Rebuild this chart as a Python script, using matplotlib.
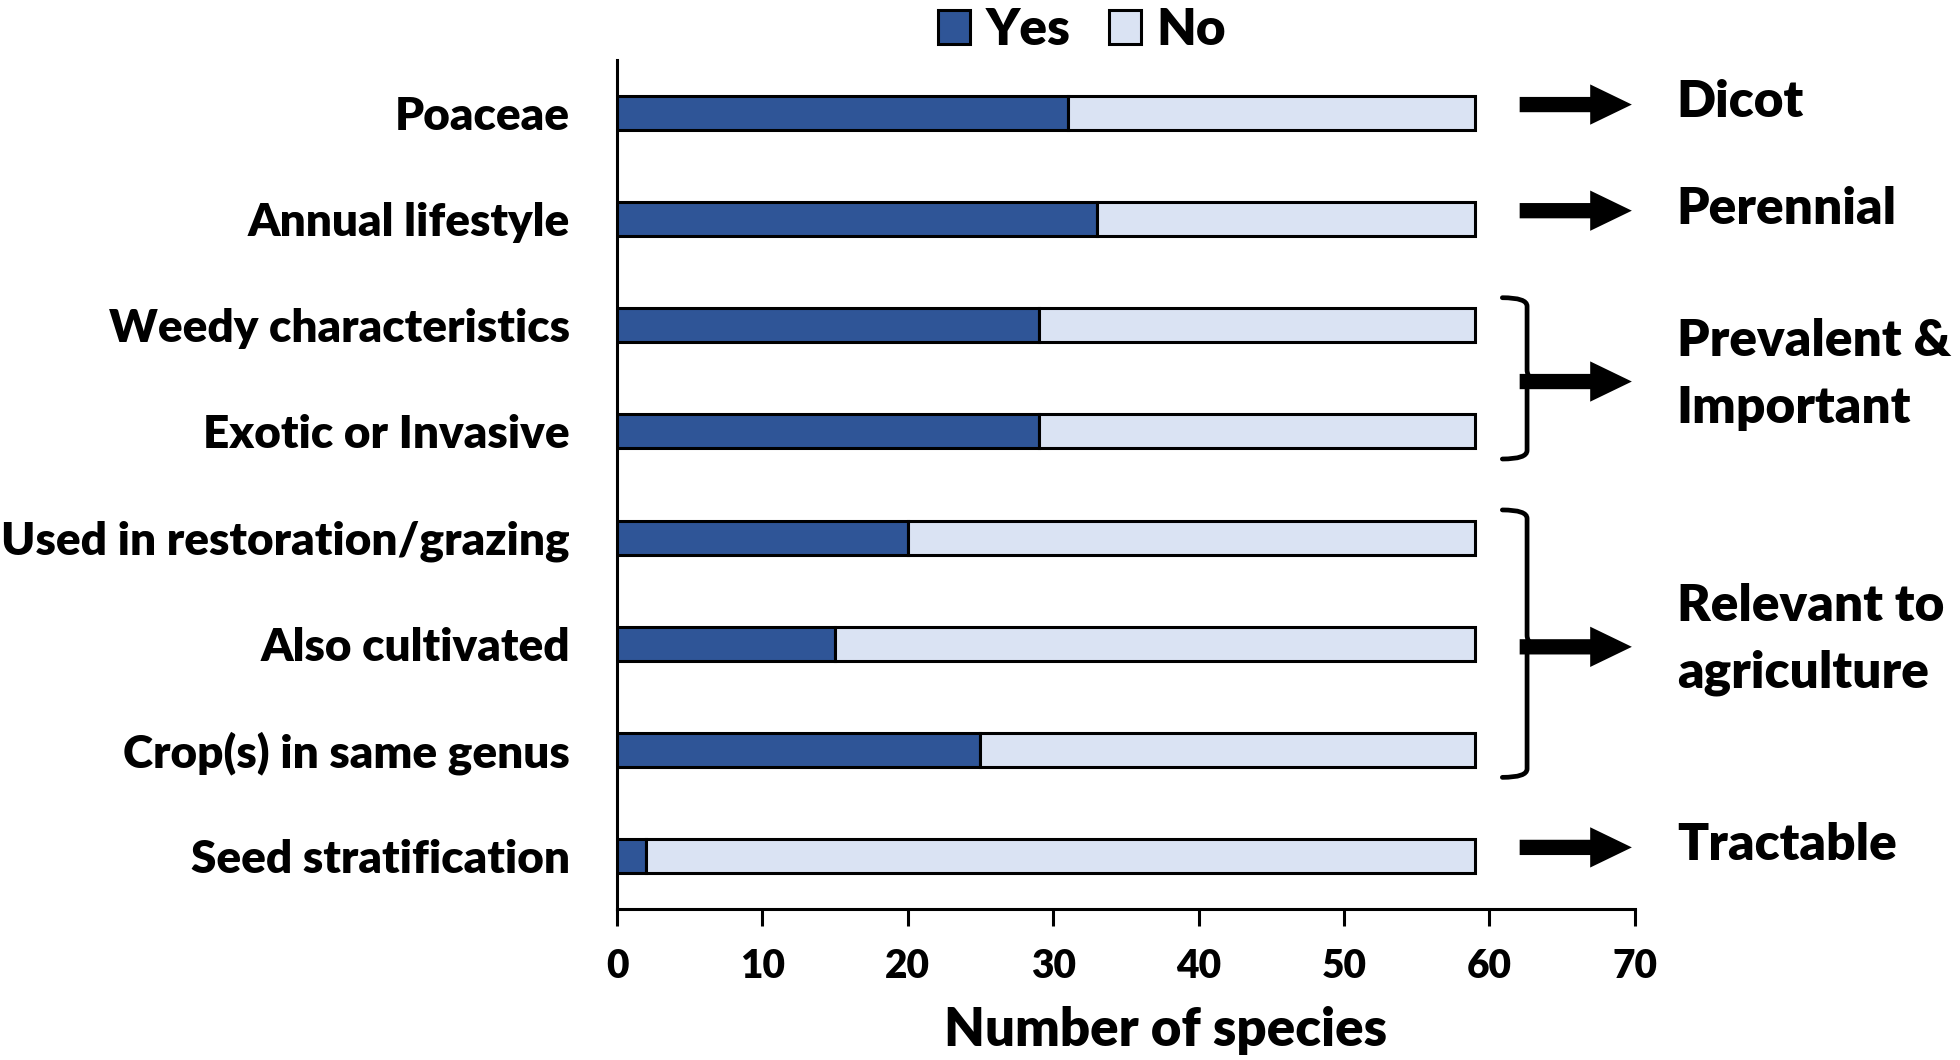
import numpy as np
import matplotlib
matplotlib.use("Agg")
import matplotlib.pyplot as plt
from matplotlib.patches import Patch, FancyArrowPatch, PathPatch
from matplotlib.path import Path

plt.rcParams['font.family'] = ['Lato', 'DejaVu Sans']
plt.rcParams['font.weight'] = 'heavy'
W = 'heavy'

# data
traits = ['Poaceae', 'Annual lifestyle', 'Weedy characteristics', 'Exotic or Invasive',
          'Used in restoration/grazing', 'Also cultivated', 'Crop(s) in same genus',
          'Seed stratification']
yes_counts = [31, 33, 29, 29, 20, 15, 25, 2]
total_species = 59
no_counts = [total_species - v for v in yes_counts]

groups = [([0], 'Dicot'), ([1], 'Perennial'), ([2, 3], 'Prevalent &\nImportant'),
          ([4, 5, 6], 'Relevant to\nagriculture'), ([7], 'Tractable')]

blue = '#2F5597'
light = '#DAE3F3'

fig = plt.figure(figsize=(19.6, 10.6), dpi=100)
ax = fig.add_axes([0.3148, 0.1425, 0.834 - 0.3148, 0.9434 - 0.1425])

y = np.arange(len(traits))
ax.barh(y, yes_counts, height=0.32, color=blue, edgecolor='black', linewidth=2.2, label='Yes')
ax.barh(y, no_counts, left=yes_counts, height=0.32, color=light, edgecolor='black', linewidth=2.2, label='No')

ax.set_ylim(7.5, -0.5)
ax.set_xlim(0, 70)
ax.set_xticks(np.arange(0, 71, 10))
ax.set_yticks(y)
ax.set_yticklabels(traits, fontsize=33, fontweight=W)
ax.tick_params(axis='y', length=0, pad=34)
ax.tick_params(axis='x', length=12, width=2.2, labelsize=28, pad=16)
for lab in ax.get_xticklabels():
    lab.set_fontweight(W)
for s in ['top', 'right']:
    ax.spines[s].set_visible(False)
for s in ['left', 'bottom']:
    ax.spines[s].set_linewidth(2.2)
ax.set_xlabel('Number of species', fontsize=38, fontweight=W)
ax.xaxis.label.set_va('center')
ax.xaxis.set_label_coords(0.539, -0.143)

# right-hand annotations
def arrow(yc):
    a = FancyArrowPatch((61.9, yc), (70.0, yc), arrowstyle='simple,head_length=30,head_width=29,tail_width=11',
                        mutation_scale=1, color='black', clip_on=False, lw=0)
    ax.add_patch(a)

def bracket(y0, y1):
    x0, x1 = 60.9, 62.6
    ym = (y0 + y1) / 2
    verts = [(x0, y0), (x1, y0), (x1, y0 + 0.08),
             (x1, ym - 0.08), (x1, ym - 0.02), (x1 + 0.35, ym),
             (x1, ym + 0.02), (x1, ym + 0.08),
             (x1, y1 - 0.08), (x1, y1), (x0, y1)]
    codes = [Path.MOVETO, Path.CURVE3, Path.CURVE3,
             Path.LINETO, Path.CURVE3, Path.CURVE3,
             Path.CURVE3, Path.CURVE3,
             Path.LINETO, Path.CURVE3, Path.CURVE3]
    ax.add_patch(PathPatch(Path(verts, codes), fill=False, lw=3.4, color='black',
                           clip_on=False, capstyle='round'))

for idx, name in groups:
    yc = np.mean(idx)
    if len(idx) > 1:
        bracket(idx[0] - 0.26, idx[-1] + 0.26)
        yc = yc + 0.03
        ty = yc - 0.07
    else:
        yc = yc - 0.08
        ty = yc - 0.02
    arrow(yc)
    ax.text(72.9, ty, name, fontsize=37, fontweight=W, va='center', ha='left',
            linespacing=1.55, clip_on=False)

handles = [Patch(facecolor=blue, edgecolor='black', linewidth=2.2, label='Yes'),
           Patch(facecolor=light, edgecolor='black', linewidth=2.2, label='No')]
fig.legend(handles=handles, loc='upper center', bbox_to_anchor=(0.552, 1.037), ncol=2,
           frameon=False, handlelength=0.62, handleheight=0.62,
           handletextpad=0.3, columnspacing=0.75, prop={'weight': W, 'size': 37})

fig.savefig('out.png', dpi=100)
